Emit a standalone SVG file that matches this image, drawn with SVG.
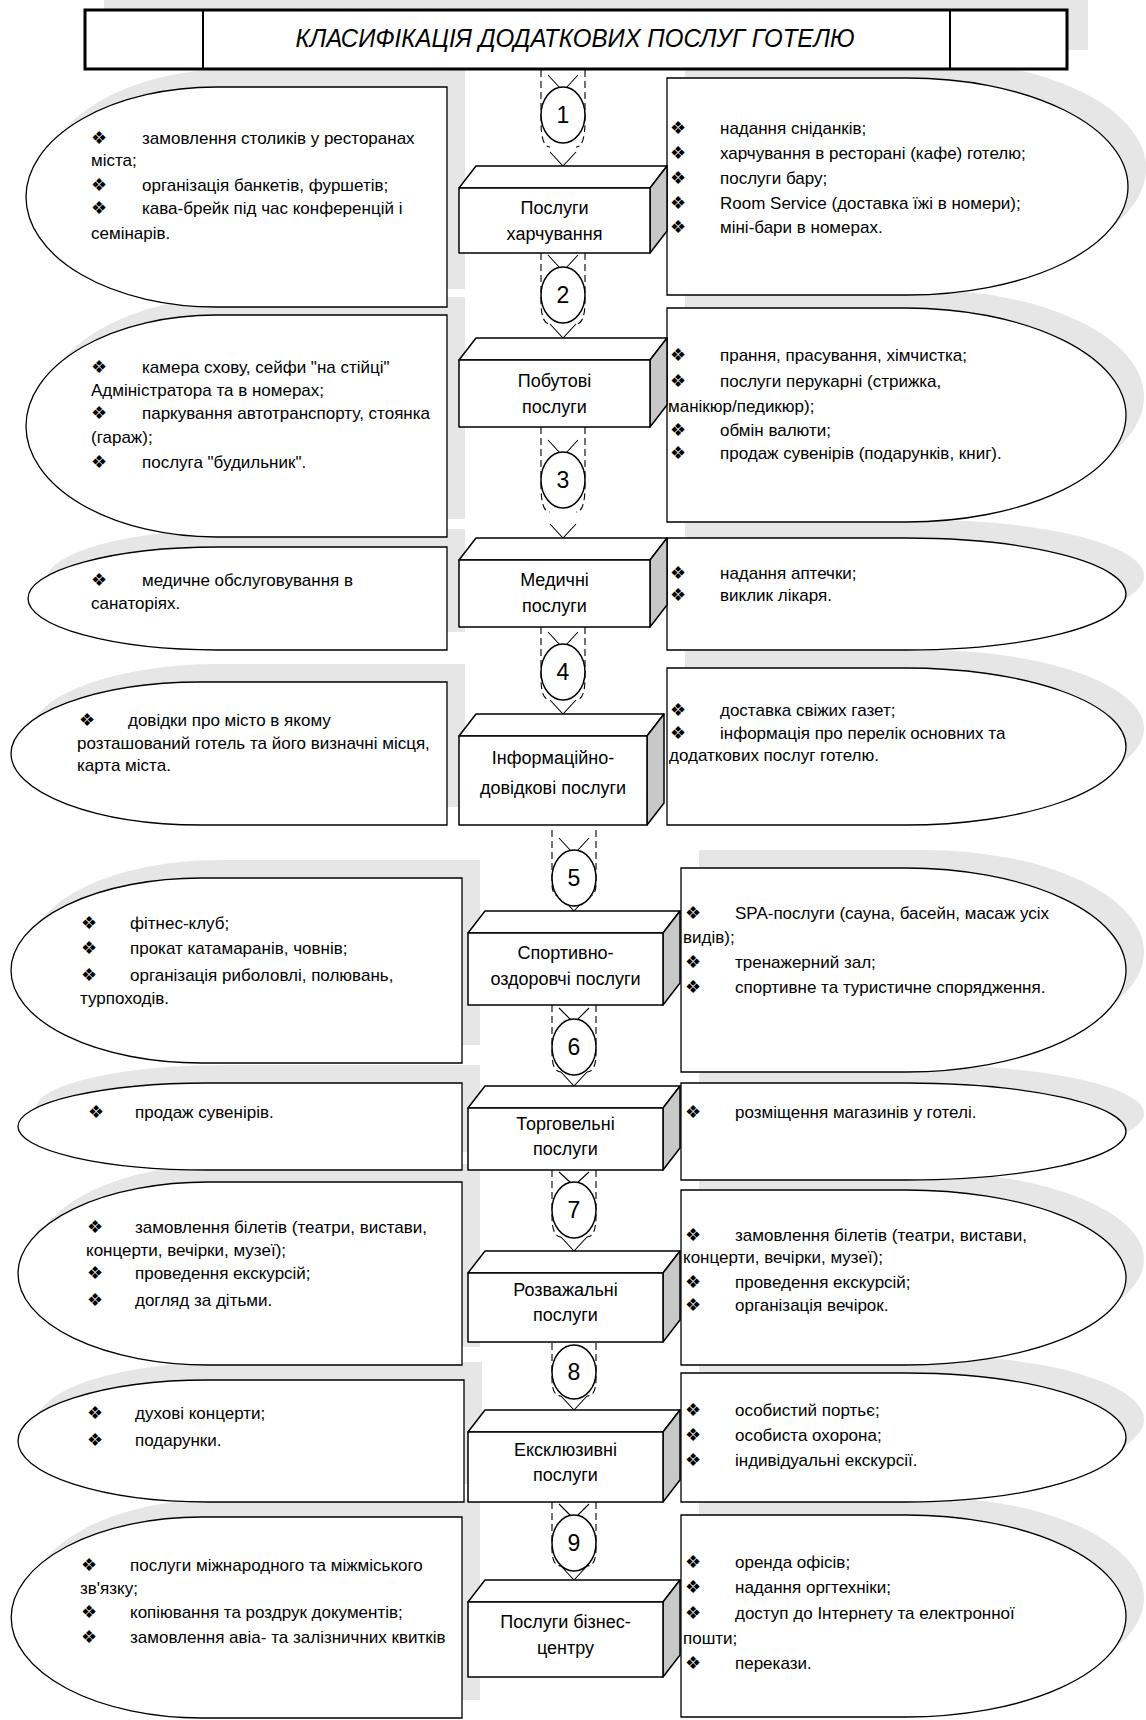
<svg xmlns="http://www.w3.org/2000/svg" xmlns:xlink="http://www.w3.org/1999/xlink" width="1146" height="1720" viewBox="0 0 1146 1720">
<style>
.shadow{fill:#e6e6e6;stroke:none}
.shape{fill:#fff;stroke:#000;stroke-width:1.3}
.face{fill:#fff;stroke:#000;stroke-width:1.5;stroke-linejoin:round}
.side{fill:#c8c8c8;stroke:#000;stroke-width:1.5;stroke-linejoin:round}
.t{font-family:"Liberation Sans",Arial,sans-serif;font-size:17px;fill:#000}
.bx{font-family:"Liberation Sans",Arial,sans-serif;font-size:18px;fill:#000;text-anchor:middle}
.b{font-family:"DejaVu Sans",sans-serif;font-size:18px;fill:#000}
.num{font-family:"Liberation Sans",Arial,sans-serif;font-size:23px;fill:#000;text-anchor:middle}
.dash{fill:none;stroke:#000;stroke-width:1.1;stroke-dasharray:7 4}
.ln{fill:none;stroke:#000;stroke-width:1.1}
.circ{fill:#fff;stroke:#000;stroke-width:1.5}
</style>
<defs>
<path id="L1" d="M447,87 H216 A190,110 0 0 0 216,307 H447 Z"/>
<path id="L2" d="M447,315 H216 A190,111 0 0 0 216,537 H447 Z"/>
<path id="L3" d="M447,547 H218 A190,51.5 0 0 0 218,650 H447 Z"/>
<path id="L4" d="M447,682 H201 A190,71.5 0 0 0 201,825 H447 Z"/>
<path id="L5" d="M462,878 H201 A190,92.5 0 0 0 201,1063 H462 Z"/>
<path id="L6" d="M462,1083 H208 A190,43.5 0 0 0 208,1170 H462 Z"/>
<path id="L7" d="M462,1182 H208 A190,91.5 0 0 0 208,1365 H462 Z"/>
<path id="L8" d="M464,1380 H208 A190,61 0 0 0 208,1502 H464 Z"/>
<path id="L9" d="M462,1517 H201 A190,100.5 0 0 0 201,1718 H462 Z"/>
<path id="R1" d="M667,78 H908 A220,108.5 0 0 1 908,295 H667 Z"/>
<path id="R2" d="M667,308 H906 A220,107 0 0 1 906,522 H667 Z"/>
<path id="R3" d="M667,538 H906 A220,56 0 0 1 906,650 H667 Z"/>
<path id="R4" d="M667,668 H906 A220,78.5 0 0 1 906,825 H667 Z"/>
<path id="R5" d="M681,868 H906 A220,102 0 0 1 906,1072 H681 Z"/>
<path id="R6" d="M681,1083 H906 A220,48.5 0 0 1 906,1180 H681 Z"/>
<path id="R7" d="M681,1190 H906 A220,87.5 0 0 1 906,1365 H681 Z"/>
<path id="R8" d="M681,1373 H906 A220,64.5 0 0 1 906,1502 H681 Z"/>
<path id="R9" d="M681,1515 H906 A220,101 0 0 1 906,1717 H681 Z"/>
</defs>
<rect width="1146" height="1720" fill="#fff"/>

<g id="shadows">
<rect class="shadow" x="104" y="-11" width="984" height="61"/>
<use href="#L1" class="shadow" transform="translate(18,-18)"/>
<use href="#L2" class="shadow" transform="translate(18,-18)"/>
<use href="#L3" class="shadow" transform="translate(18,-18)"/>
<use href="#L4" class="shadow" transform="translate(18,-18)"/>
<use href="#L5" class="shadow" transform="translate(18,-18)"/>
<use href="#L6" class="shadow" transform="translate(18,-18)"/>
<use href="#L7" class="shadow" transform="translate(18,-18)"/>
<use href="#L8" class="shadow" transform="translate(18,-18)"/>
<use href="#L9" class="shadow" transform="translate(18,-18)"/>
<use href="#R1" class="shadow" transform="translate(18,-18)"/>
<use href="#R2" class="shadow" transform="translate(18,-18)"/>
<use href="#R3" class="shadow" transform="translate(18,-18)"/>
<use href="#R4" class="shadow" transform="translate(18,-18)"/>
<use href="#R5" class="shadow" transform="translate(18,-18)"/>
<use href="#R6" class="shadow" transform="translate(18,-18)"/>
<use href="#R7" class="shadow" transform="translate(18,-18)"/>
<use href="#R8" class="shadow" transform="translate(18,-18)"/>
<use href="#R9" class="shadow" transform="translate(18,-18)"/>
</g>

<g id="title">
<rect x="85" y="10" width="982" height="59" fill="#fff" stroke="#000" stroke-width="3"/>
<line x1="203" y1="10" x2="203" y2="69" stroke="#000" stroke-width="2"/>
<line x1="950" y1="10" x2="950" y2="69" stroke="#000" stroke-width="2"/>
<text x="575" y="47" font-family="Liberation Sans, Arial, sans-serif" font-size="26" font-style="italic" text-anchor="middle" textLength="559" lengthAdjust="spacingAndGlyphs" fill="#000">КЛАСИФІКАЦІЯ ДОДАТКОВИХ  ПОСЛУГ ГОТЕЛЮ</text>
</g>

<g id="left1"><use href="#L1" class="shape"/>
<text class="b" x="91" y="144">❖</text><text class="t" x="142" y="144">замовлення столиків у ресторанах</text>
<text class="t" x="91" y="166">міста;</text>
<text class="b" x="91" y="191">❖</text><text class="t" x="142" y="191">організація банкетів, фуршетів;</text>
<text class="b" x="91" y="214">❖</text><text class="t" x="142" y="214">кава-брейк під час конференцій і</text>
<text class="t" x="91" y="239">семінарів.</text></g>
<g id="right1"><use href="#R1" class="shape"/>
<text class="b" x="670" y="134">❖</text><text class="t" x="720" y="134">надання сніданків;</text>
<text class="b" x="670" y="159">❖</text><text class="t" x="720" y="159">харчування в ресторані (кафе) готелю;</text>
<text class="b" x="670" y="184">❖</text><text class="t" x="720" y="184">послуги бару;</text>
<text class="b" x="670" y="209">❖</text><text class="t" x="720" y="209">Room Service (доставка їжі в номери);</text>
<text class="b" x="670" y="233">❖</text><text class="t" x="720" y="233">міні-бари в номерах.</text></g>

<g id="left2"><use href="#L2" class="shape"/>
<text class="b" x="91" y="373">❖</text><text class="t" x="142" y="373">камера схову, сейфи "на стійці"</text>
<text class="t" x="91" y="396">Адміністратора та в номерах;</text>
<text class="b" x="91" y="419">❖</text><text class="t" x="142" y="419">паркування автотранспорту, стоянка</text>
<text class="t" x="91" y="443">(гараж);</text>
<text class="b" x="91" y="468">❖</text><text class="t" x="142" y="468">послуга "будильник".</text></g>
<g id="right2"><use href="#R2" class="shape"/>
<text class="b" x="670" y="361">❖</text><text class="t" x="720" y="361">прання, прасування, хімчистка;</text>
<text class="b" x="670" y="387">❖</text><text class="t" x="720" y="387">послуги перукарні (стрижка,</text>
<text class="t" x="668" y="412">манікюр/педикюр);</text>
<text class="b" x="670" y="436">❖</text><text class="t" x="720" y="436">обмін валюти;</text>
<text class="b" x="670" y="459">❖</text><text class="t" x="720" y="459">продаж сувенірів (подарунків, книг).</text></g>

<g id="left3"><use href="#L3" class="shape"/>
<text class="b" x="91" y="586">❖</text><text class="t" x="142" y="586">медичне обслуговування в</text>
<text class="t" x="91" y="609">санаторіях.</text></g>
<g id="right3"><use href="#R3" class="shape"/>
<text class="b" x="670" y="579">❖</text><text class="t" x="720" y="579">надання аптечки;</text>
<text class="b" x="670" y="601">❖</text><text class="t" x="720" y="601">виклик лікаря.</text></g>

<g id="left4"><use href="#L4" class="shape"/>
<text class="b" x="79" y="726">❖</text><text class="t" x="128" y="726">довідки про місто в якому</text>
<text class="t" x="77" y="749">розташований готель та його визначні місця,</text>
<text class="t" x="77" y="771">карта міста.</text></g>
<g id="right4"><use href="#R4" class="shape"/>
<text class="b" x="670" y="716">❖</text><text class="t" x="720" y="716">доставка свіжих газет;</text>
<text class="b" x="670" y="739">❖</text><text class="t" x="720" y="739">інформація про перелік основних та</text>
<text class="t" x="669" y="761">додаткових послуг готелю.</text></g>

<g id="left5"><use href="#L5" class="shape"/>
<text class="b" x="81" y="929">❖</text><text class="t" x="130" y="929">фітнес-клуб;</text>
<text class="b" x="81" y="954">❖</text><text class="t" x="130" y="954">прокат катамаранів, човнів;</text>
<text class="b" x="81" y="981">❖</text><text class="t" x="130" y="981">організація риболовлі, полювань,</text>
<text class="t" x="80" y="1004">турпоходів.</text></g>
<g id="right5"><use href="#R5" class="shape"/>
<text class="b" x="685" y="919">❖</text><text class="t" x="735" y="919">SPA-послуги (сауна, басейн, масаж усіх</text>
<text class="t" x="683" y="943">видів);</text>
<text class="b" x="685" y="968">❖</text><text class="t" x="735" y="968">тренажерний зал;</text>
<text class="b" x="685" y="993">❖</text><text class="t" x="735" y="993">спортивне та туристичне спорядження.</text></g>

<g id="left6"><use href="#L6" class="shape"/>
<text class="b" x="88" y="1118">❖</text><text class="t" x="135" y="1118">продаж сувенірів.</text></g>
<g id="right6"><use href="#R6" class="shape"/>
<text class="b" x="685" y="1118">❖</text><text class="t" x="735" y="1118">розміщення магазинів у готелі.</text></g>

<g id="left7"><use href="#L7" class="shape"/>
<text class="b" x="87" y="1233">❖</text><text class="t" x="135" y="1233">замовлення білетів (театри, вистави,</text>
<text class="t" x="86" y="1256">концерти, вечірки, музеї);</text>
<text class="b" x="87" y="1279">❖</text><text class="t" x="135" y="1279">проведення екскурсій;</text>
<text class="b" x="87" y="1306">❖</text><text class="t" x="135" y="1306">догляд за дітьми.</text></g>
<g id="right7"><use href="#R7" class="shape"/>
<text class="b" x="685" y="1241">❖</text><text class="t" x="735" y="1241">замовлення білетів (театри, вистави,</text>
<text class="t" x="683" y="1263">концерти, вечірки, музеї);</text>
<text class="b" x="685" y="1288">❖</text><text class="t" x="735" y="1288">проведення екскурсій;</text>
<text class="b" x="685" y="1311">❖</text><text class="t" x="735" y="1311">організація вечірок.</text></g>

<g id="left8"><use href="#L8" class="shape"/>
<text class="b" x="87" y="1419">❖</text><text class="t" x="135" y="1419">духові концерти;</text>
<text class="b" x="87" y="1446">❖</text><text class="t" x="135" y="1446">подарунки.</text></g>
<g id="right8"><use href="#R8" class="shape"/>
<text class="b" x="685" y="1416">❖</text><text class="t" x="735" y="1416">особистий портьє;</text>
<text class="b" x="685" y="1441">❖</text><text class="t" x="735" y="1441">особиста охорона;</text>
<text class="b" x="685" y="1466">❖</text><text class="t" x="735" y="1466">індивідуальні екскурсії.</text></g>

<g id="left9"><use href="#L9" class="shape"/>
<text class="b" x="81" y="1571">❖</text><text class="t" x="130" y="1571">послуги міжнародного та міжміського</text>
<text class="t" x="80" y="1594">зв'язку;</text>
<text class="b" x="81" y="1618">❖</text><text class="t" x="130" y="1618">копіювання та роздрук документів;</text>
<text class="b" x="81" y="1643">❖</text><text class="t" x="130" y="1643">замовлення авіа- та залізничних квитків</text></g>
<g id="right9"><use href="#R9" class="shape"/>
<text class="b" x="685" y="1568">❖</text><text class="t" x="735" y="1568">оренда офісів;</text>
<text class="b" x="685" y="1593">❖</text><text class="t" x="735" y="1593">надання оргтехніки;</text>
<text class="b" x="685" y="1619">❖</text><text class="t" x="735" y="1619">доступ до Інтернету та електронної</text>
<text class="t" x="683" y="1644">пошти;</text>
<text class="b" x="685" y="1669">❖</text><text class="t" x="735" y="1669">перекази.</text></g>

<g id="connectors">
<g id="c1">
<path class="dash" d="M541,70 V121 Q541,147 550,147 M585,70 V121 Q585,147 576,147"/>
<path class="ln" d="M548,75 L560,88 M578,75 L566,88 M550,152 L563,166 L576,152"/>
<ellipse class="circ" cx="563" cy="115" rx="22" ry="28"/><text class="num" x="563" y="123">1</text></g>
<g id="c2">
<path class="dash" d="M541,253 V301 Q541,324 550,324 M585,253 V301 Q585,324 576,324"/>
<path class="ln" d="M548,255 L560,268 M578,255 L566,268 M550,324 L563,338 L576,324"/>
<ellipse class="circ" cx="563" cy="295" rx="22" ry="28"/><text class="num" x="563" y="303">2</text></g>
<g id="c3">
<path class="dash" d="M541,427 V486 Q541,512 550,512 M585,427 V486 Q585,512 576,512"/>
<path class="ln" d="M548,440 L560,453 M578,440 L566,453 M550,524 L563,538 L576,524"/>
<ellipse class="circ" cx="563" cy="480" rx="22" ry="28"/><text class="num" x="563" y="488">3</text></g>
<g id="c4">
<path class="dash" d="M541,627 V678 Q541,700 550,700 M585,627 V678 Q585,700 576,700"/>
<path class="ln" d="M548,632 L560,645 M578,632 L566,645 M550,700 L563,714 L576,700"/>
<ellipse class="circ" cx="563" cy="672" rx="22" ry="28"/><text class="num" x="563" y="680">4</text></g>
<g id="c5">
<path class="dash" d="M552,830 V884 Q552,897 561,897 M596,830 V884 Q596,897 587,897"/>
<path class="ln" d="M559,838 L571,851 M589,838 L577,851 M561,897 L574,911 L587,897"/>
<ellipse class="circ" cx="574" cy="878" rx="22" ry="28"/><text class="num" x="574" y="886">5</text></g>
<g id="c6">
<path class="dash" d="M552,1005 V1053 Q552,1072 561,1072 M596,1005 V1053 Q596,1072 587,1072"/>
<path class="ln" d="M559,1008 L571,1020 M589,1008 L577,1020 M561,1072 L574,1086 L587,1072"/>
<ellipse class="circ" cx="574" cy="1047" rx="22" ry="28"/><text class="num" x="574" y="1055">6</text></g>
<g id="c7">
<path class="dash" d="M552,1170 V1216 Q552,1237 561,1237 M596,1170 V1216 Q596,1237 587,1237"/>
<path class="ln" d="M559,1172 L571,1183 M589,1172 L577,1183 M561,1237 L574,1251 L587,1237"/>
<ellipse class="circ" cx="574" cy="1210" rx="22" ry="28"/><text class="num" x="574" y="1218">7</text></g>
<g id="c8">
<path class="dash" d="M552,1343 V1379 Q552,1396 561,1396 M596,1343 V1379 Q596,1396 587,1396"/>
<path class="ln" d="M561,1396 L574,1410 L587,1396"/>
<ellipse class="circ" cx="574" cy="1372" rx="22" ry="27"/><text class="num" x="574" y="1380">8</text></g>
<g id="c9">
<path class="dash" d="M552,1502 V1549 Q552,1566 561,1566 M596,1502 V1549 Q596,1566 587,1566"/>
<path class="ln" d="M559,1504 L571,1516 M589,1504 L577,1516 M561,1566 L574,1580 L587,1566"/>
<ellipse class="circ" cx="574" cy="1543" rx="22" ry="28"/><text class="num" x="574" y="1551">9</text></g>
</g>

<g id="box1">
<path class="face" d="M459,188 L476,166 L667,166 L650,188 Z"/>
<path class="side" d="M650,188 L667,166 L667,231 L650,253 Z"/>
<rect class="face" x="459" y="188" width="191" height="65"/>
<text class="bx" x="554.5" y="214">Послуги</text><text class="bx" x="554.5" y="240">харчування</text></g>
<g id="box2">
<path class="face" d="M459,360 L476,338 L667,338 L650,360 Z"/>
<path class="side" d="M650,360 L667,338 L667,405 L650,427 Z"/>
<rect class="face" x="459" y="360" width="191" height="67"/>
<text class="bx" x="554.5" y="387">Побутові</text><text class="bx" x="554.5" y="413">послуги</text></g>
<g id="box3">
<path class="face" d="M459,560 L476,538 L667,538 L650,560 Z"/>
<path class="side" d="M650,560 L667,538 L667,605 L650,627 Z"/>
<rect class="face" x="459" y="560" width="191" height="67"/>
<text class="bx" x="554.5" y="586">Медичні</text><text class="bx" x="554.5" y="612">послуги</text></g>
<g id="box4">
<path class="face" d="M459,736 L476,714 L664,714 L647,736 Z"/>
<path class="side" d="M647,736 L664,714 L664,803 L647,825 Z"/>
<rect class="face" x="459" y="736" width="188" height="89"/>
<text class="bx" x="553" y="764">Інформаційно-</text><text class="bx" x="553" y="794">довідкові послуги</text></g>
<g id="box5">
<path class="face" d="M468,933 L485,911 L680,911 L663,933 Z"/>
<path class="side" d="M663,933 L680,911 L680,983 L663,1005 Z"/>
<rect class="face" x="468" y="933" width="195" height="72"/>
<text class="bx" x="565.5" y="959">Спортивно-</text><text class="bx" x="565.5" y="985">оздоровчі послуги</text></g>
<g id="box6">
<path class="face" d="M468,1108 L485,1086 L680,1086 L663,1108 Z"/>
<path class="side" d="M663,1108 L680,1086 L680,1148 L663,1170 Z"/>
<rect class="face" x="468" y="1108" width="195" height="62"/>
<text class="bx" x="565.5" y="1130">Торговельні</text><text class="bx" x="565.5" y="1155">послуги</text></g>
<g id="box7">
<path class="face" d="M468,1273 L485,1251 L680,1251 L663,1273 Z"/>
<path class="side" d="M663,1273 L680,1251 L680,1320 L663,1342 Z"/>
<rect class="face" x="468" y="1273" width="195" height="69"/>
<text class="bx" x="565.5" y="1296">Розважальні</text><text class="bx" x="565.5" y="1321">послуги</text></g>
<g id="box8">
<path class="face" d="M468,1432 L485,1410 L680,1410 L663,1432 Z"/>
<path class="side" d="M663,1432 L680,1410 L680,1480 L663,1502 Z"/>
<rect class="face" x="468" y="1432" width="195" height="70"/>
<text class="bx" x="565.5" y="1456">Ексклюзивні</text><text class="bx" x="565.5" y="1481">послуги</text></g>
<g id="box9">
<path class="face" d="M468,1602 L485,1580 L680,1580 L663,1602 Z"/>
<path class="side" d="M663,1602 L680,1580 L680,1655 L663,1677 Z"/>
<rect class="face" x="468" y="1602" width="195" height="75"/>
<text class="bx" x="565.5" y="1628">Послуги бізнес-</text><text class="bx" x="565.5" y="1654">центру</text></g>
</svg>
